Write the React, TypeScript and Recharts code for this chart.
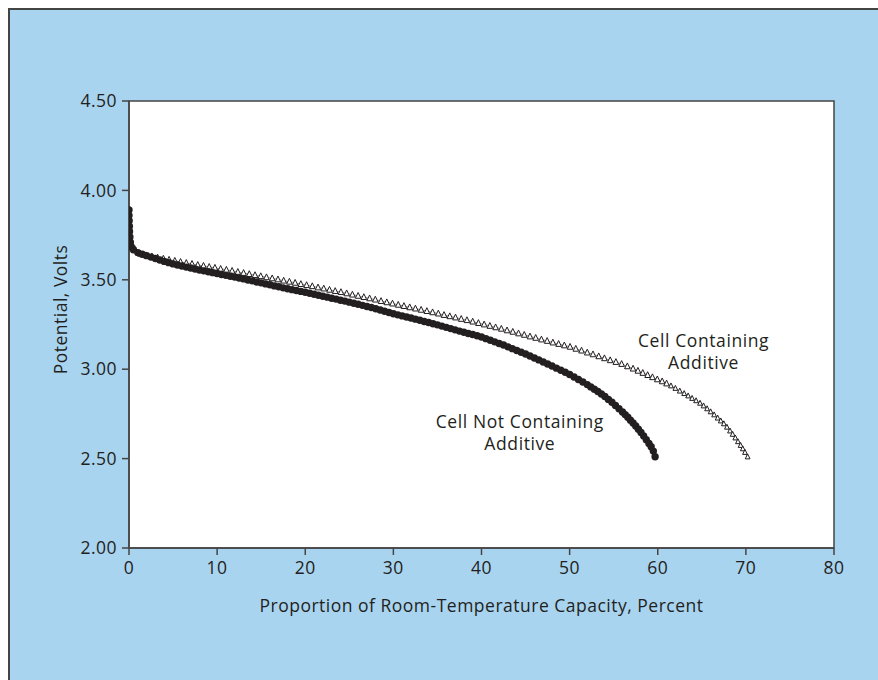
import React from 'react'
import { LineChart, Line, XAxis, YAxis, ReferenceArea, ReferenceDot } from 'recharts'

const FONT = '"Open Sans", "Noto Sans", sans-serif'
const INK = '#231f20'
const AXIS = '#444444'
const PANEL_BLUE = '#a9d4f0'

const xTicks = [0, 10, 20, 30, 40, 50, 60, 70, 80]
const yTicks = [2.0, 2.5, 3.0, 3.5, 4.0, 4.5]

// cell without additive (filled circles)
const plainCapacity = [
  0, 0, 0.02, 0.04, 0.06, 0.1, 0.15, 0.25,
  0.5, 1.0, 1.5, 2.0, 2.5, 3.0, 3.5, 4.0, 4.5, 5.0, 5.5, 6.0, 6.5, 7.0, 7.5, 8.0, 8.5, 9.0, 9.5,
  10.0, 10.5, 11.0, 11.5, 12.0, 12.5, 13.0, 13.5, 14.0, 14.5, 15.0, 15.5, 16.0, 16.5, 17.0, 17.5,
  18.0, 18.5, 19.0, 19.5, 20.0, 20.5, 21.0, 21.5, 22.0, 22.5, 23.0, 23.5, 24.0, 24.5, 25.0, 25.5,
  26.0, 26.5, 27.0, 27.5, 28.0, 28.5, 29.0, 29.5, 30.0, 30.5, 31.0, 31.5, 32.0, 32.5, 33.0, 33.5,
  34.0, 34.5, 35.0, 35.5, 36.0, 36.5, 37.0, 37.5, 38.0, 38.5, 39.0, 39.5, 40.0, 40.5, 41.0, 41.5,
  42.0, 42.5, 43.0, 43.5, 44.0, 44.5, 45.0, 45.5, 46.0, 46.5, 47.0, 47.5, 48.0, 48.5, 49.0, 49.5,
  50.0, 50.5, 51.0, 51.5, 52.0, 52.4, 52.8, 53.2, 53.6, 54.0, 54.4, 54.8, 55.2, 55.6, 56.0,
  56.3, 56.6, 56.9, 57.2, 57.5, 57.8, 58.1, 58.4, 58.7, 59.0, 59.25, 59.5, 59.7,
]
const plainVolts = [
  3.89, 3.86, 3.83, 3.8, 3.77, 3.74, 3.71, 3.685,
  3.668, 3.652, 3.643, 3.635, 3.627, 3.619, 3.611, 3.603, 3.596, 3.589, 3.583, 3.577, 3.571, 3.566, 3.56, 3.555, 3.55, 3.545, 3.54,
  3.535, 3.53, 3.525, 3.52, 3.515, 3.51, 3.505, 3.499, 3.494, 3.488, 3.483, 3.477, 3.472, 3.466, 3.461, 3.455,
  3.45, 3.445, 3.44, 3.435, 3.43, 3.425, 3.419, 3.414, 3.408, 3.403, 3.397, 3.392, 3.386, 3.381, 3.375, 3.369,
  3.363, 3.357, 3.351, 3.345, 3.338, 3.331, 3.324, 3.317, 3.31, 3.304, 3.298, 3.292, 3.286, 3.28, 3.274, 3.267,
  3.261, 3.254, 3.248, 3.241, 3.234, 3.227, 3.22, 3.213, 3.207, 3.2, 3.194, 3.187, 3.18, 3.171, 3.162, 3.153,
  3.144, 3.135, 3.125, 3.115, 3.105, 3.095, 3.085, 3.074, 3.063, 3.052, 3.04, 3.029, 3.018, 3.006, 2.994, 2.983,
  2.97, 2.956, 2.942, 2.928, 2.914, 2.901, 2.888, 2.875, 2.861, 2.847, 2.831, 2.815, 2.797, 2.779, 2.761,
  2.746, 2.731, 2.715, 2.699, 2.682, 2.664, 2.646, 2.627, 2.606, 2.585, 2.566, 2.542, 2.51,
]

// cell with additive (open triangles)
const additiveCapacity = [
  0, 0.65, 1.3, 1.95, 2.6, 3.25, 3.9, 4.55, 5.2, 5.85, 6.5, 7.15, 7.8, 8.45, 9.1, 9.75,
  10.4, 11.05, 11.7, 12.35, 13.0, 13.65, 14.3, 14.95, 15.6, 16.25, 16.9, 17.55, 18.2, 18.85, 19.5,
  20.15, 20.8, 21.45, 22.1, 22.75, 23.4, 24.05, 24.7, 25.35, 26.0, 26.65, 27.3, 27.95, 28.6, 29.25, 29.9,
  30.55, 31.2, 31.85, 32.5, 33.15, 33.8, 34.45, 35.1, 35.75, 36.4, 37.05, 37.7, 38.35, 39.0, 39.65,
  40.3, 40.95, 41.6, 42.25, 42.9, 43.55, 44.2, 44.85, 45.5, 46.15, 46.8, 47.45, 48.1, 48.75, 49.4,
  50.05, 50.7, 51.35, 52.0, 52.65, 53.3, 53.95, 54.6, 55.25, 55.9, 56.55, 57.2,
  57.75, 58.3, 58.85, 59.4, 59.95, 60.5, 61.0, 61.5, 62.0, 62.5, 63.0, 63.45, 63.9, 64.35, 64.8,
  65.2, 65.6, 66.0, 66.4, 66.8, 67.15, 67.5, 67.85, 68.2, 68.5, 68.8, 69.1, 69.4, 69.65, 69.9, 70.2,
]
const additiveVolts = [
  3.8, 3.672, 3.645, 3.637, 3.631, 3.624, 3.618, 3.612, 3.606, 3.6, 3.594, 3.589, 3.583, 3.578, 3.572, 3.567,
  3.561, 3.556, 3.55, 3.544, 3.538, 3.532, 3.526, 3.52, 3.514, 3.508, 3.502, 3.495, 3.489, 3.483, 3.476,
  3.47, 3.464, 3.457, 3.451, 3.444, 3.437, 3.431, 3.424, 3.417, 3.41, 3.403, 3.396, 3.389, 3.381, 3.374, 3.367,
  3.36, 3.353, 3.346, 3.339, 3.332, 3.325, 3.318, 3.311, 3.303, 3.296, 3.289, 3.281, 3.274, 3.266, 3.258,
  3.25, 3.242, 3.234, 3.226, 3.217, 3.209, 3.2, 3.192, 3.183, 3.175, 3.166, 3.158, 3.149, 3.141, 3.133,
  3.125, 3.114, 3.104, 3.093, 3.083, 3.072, 3.061, 3.05, 3.04, 3.029, 3.016, 3.003,
  2.991, 2.979, 2.967, 2.955, 2.943, 2.932, 2.92, 2.907, 2.893, 2.878, 2.864, 2.851, 2.837, 2.824, 2.81,
  2.795, 2.779, 2.762, 2.745, 2.727, 2.711, 2.695, 2.676, 2.655, 2.636, 2.616, 2.595, 2.574, 2.555, 2.535, 2.51,
]

const annotationX = [65.2, 44.35]
const annotationY = [3.096, 2.643]
const annotationLines = [
  ['Cell Containing', 'Additive'],
  ['Cell Not Containing', 'Additive'],
]

const plainData = plainCapacity.map((x, i) => ({ x, v: plainVolts[i] }))
const additiveData = additiveCapacity.map((x, i) => ({ x, v: additiveVolts[i] }))

function TriangleMarker({ cx, cy, index }: any) {
  if (cx == null || cy == null) return null
  // markers in the steep tail are drawn a little smaller in the original
  const s = index > 95 ? 0.85 : 1
  return (
    <path
      d={`M${cx},${cy - 3.4 * s} L${cx + 2.8 * s},${cy + 2.4 * s} L${cx - 2.8 * s},${cy + 2.4 * s} Z`}
      fill="#ffffff"
      stroke={INK}
      strokeWidth={1}
    />
  )
}

function NoteText({ cx, cy, lines }: any) {
  return (
    <g>
      {lines.map((t: string, i: number) => (
        <text
          key={t + i}
          x={cx}
          y={cy - 5 + i * 22}
          fontFamily={FONT}
          fontSize={17.5}
          letterSpacing={0.6}
          fill={INK}
          textAnchor="middle"
        >
          {t}
        </text>
      ))}
    </g>
  )
}

export default function App() {
  const tickStyle = { fill: INK, fontSize: 17.5, fontFamily: FONT, letterSpacing: 0.5 }
  return (
    <div
      style={{
        position: 'absolute',
        left: 8,
        top: 8,
        width: 870,
        height: 672,
        boxSizing: 'border-box',
        background: PANEL_BLUE,
        borderTop: `2px solid ${AXIS}`,
        borderLeft: `2px solid ${AXIS}`,
      }}
    >
      <LineChart width={868} height={670} margin={{ top: 91, right: 44, bottom: 62, left: 0 }}>
        <ReferenceArea
          x1={0}
          x2={80}
          y1={2}
          y2={4.5}
          fill="#ffffff"
          fillOpacity={1}
          stroke={AXIS}
          strokeWidth={1.5}
        />
        <XAxis
          type="number"
          dataKey="x"
          domain={[0, 80]}
          ticks={xTicks}
          allowDataOverflow
          height={70}
          tick={tickStyle}
          tickSize={7}
          tickMargin={7}
          axisLine={{ stroke: AXIS, strokeWidth: 1.5 }}
          tickLine={{ stroke: AXIS, strokeWidth: 1.5 }}
          label={{
            value: 'Proportion of Room-Temperature Capacity, Percent',
            position: 'center',
            dy: 23,
            fill: INK,
            fontSize: 17.5,
            letterSpacing: 0.5,
            fontFamily: FONT,
          }}
        />
        <YAxis
          type="number"
          domain={[2, 4.5]}
          ticks={yTicks}
          allowDataOverflow
          width={119}
          tick={tickStyle}
          tickSize={7}
          tickMargin={5}
          tickFormatter={(v: number) => v.toFixed(2)}
          axisLine={{ stroke: AXIS, strokeWidth: 1.5 }}
          tickLine={{ stroke: AXIS, strokeWidth: 1.5 }}
          label={{
            value: 'Potential, Volts',
            angle: -90,
            position: 'center',
            dx: -8.5,
            dy: -15,
            fill: INK,
            fontSize: 17.5,
            letterSpacing: 0.5,
            fontFamily: FONT,
          }}
        />
        <Line
          data={additiveData}
          dataKey="v"
          type="linear"
          stroke="#777777"
          strokeWidth={0.8}
          dot={<TriangleMarker />}
          activeDot={false}
          isAnimationActive={false}
        />
        <Line
          data={plainData}
          dataKey="v"
          type="linear"
          stroke={INK}
          strokeWidth={3}
          dot={{ r: 3.7, fill: INK, stroke: INK, strokeWidth: 0 }}
          activeDot={false}
          isAnimationActive={false}
        />
        {annotationLines.map((lines, i) => (
          <ReferenceDot
            key={lines[0]}
            x={annotationX[i]}
            y={annotationY[i]}
            r={0}
            shape={(p: any) => <NoteText cx={p.cx} cy={p.cy} lines={lines} />}
          />
        ))}
      </LineChart>
    </div>
  )
}
